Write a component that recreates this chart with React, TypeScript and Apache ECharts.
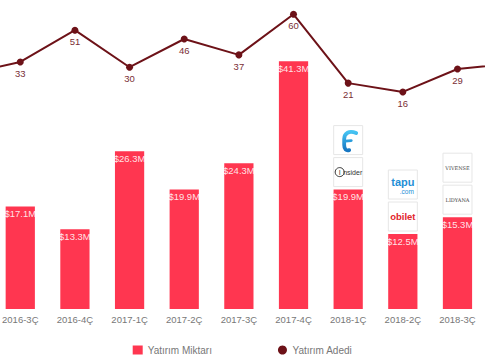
import React, { useEffect, useRef } from "react";
import * as echarts from "echarts";

// Edge categories (first/last) extend beyond the visible frame, as in the reference crop.
const categories = ["2016-2Ç", "2016-3Ç", "2016-4Ç", "2017-1Ç", "2017-2Ç", "2017-3Ç", "2017-4Ç", "2018-1Ç", "2018-2Ç", "2018-3Ç", "2018-4Ç"];
const amounts: (number | null)[] = [null, 17.1, 13.3, 26.3, 19.9, 24.3, 41.3, 19.9, 12.5, 15.3, null];
const counts = [26, 33, 51, 30, 46, 37, 60, 21, 16, 29, 32];
const legendNames = ["Yatırım Miktarı", "Yatırım Adedi"];
const logoCategories = ["2018-1Ç", "2018-2Ç", "2018-3Ç"];
const logosNear = ["insider", "obilet", "lidyana"];
const logosFar = ["f", "tapu", "vivense"];

const BAR_COLOR = "#ff3650";
const LINE_COLOR = "#6d1218";
const FONT = "Liberation Sans, Arial, sans-serif";

function logoEls(name: string, bx: number, by: number): any[] {
  switch (name) {
    case "f":
      return [
        {
          type: "path",
          x: bx - 9,
          y: by - 11,
          shape: { pathData: "M17 4 C10 1 5 4 5 10 L5 16 C5 20 7 22 10 21" },
          style: {
            fill: "none",
            stroke: new echarts.graphic.LinearGradient(0, 0, 0, 1, [
              { offset: 0, color: "#45c3f2" },
              { offset: 1, color: "#1676c2" },
            ]),
            lineWidth: 3.8,
            lineCap: "round",
          },
        },
        {
          type: "path",
          x: bx - 9,
          y: by - 11,
          shape: { pathData: "M6 12 L12 11.5" },
          style: { fill: "none", stroke: "#2a9ddc", lineWidth: 2.8, lineCap: "round" },
        },
      ];
    case "insider":
      return [
        { type: "circle", shape: { cx: bx - 8.5, cy: by, r: 4.5 }, style: { fill: "none", stroke: "#333", lineWidth: 1 } },
        { type: "text", x: bx - 8.5, y: by, style: { text: "I", fontSize: 7, fontFamily: FONT, fill: "#333", align: "center", verticalAlign: "middle" } },
        { type: "text", x: bx - 5, y: by, style: { text: "nsider", fontSize: 7, fontFamily: FONT, fill: "#333", align: "left", verticalAlign: "middle" } },
      ];
    case "tapu":
      return [
        { type: "text", x: bx, y: by - 3, style: { text: "tapu", fontSize: 11, fontWeight: "bold", fontFamily: FONT, fill: "#1f8fd6", align: "center", verticalAlign: "middle" } },
        { type: "text", x: bx + 4, y: by + 6.5, style: { text: ".com", fontSize: 6.5, fontFamily: FONT, fill: "#1f8fd6", align: "center", verticalAlign: "middle" } },
      ];
    case "obilet":
      return [
        { type: "text", x: bx, y: by, style: { text: "obilet", fontSize: 9.5, fontWeight: "bold", fontFamily: FONT, fill: "#e2252c", align: "center", verticalAlign: "middle" } },
      ];
    case "vivense":
      return [
        { type: "text", x: bx, y: by, style: { text: "VIVENSE", fontSize: 5, fontFamily: "DejaVu Serif, serif", fill: "#444", align: "center", verticalAlign: "middle" } },
      ];
    case "lidyana":
      return [
        { type: "text", x: bx, y: by, style: { text: "LIDYANA", fontSize: 5, fontFamily: "DejaVu Serif, serif", fill: "#444", align: "center", verticalAlign: "middle" } },
      ];
  }
  return [];
}

export default function App() {
  const ref = useRef<HTMLDivElement>(null);
  useEffect(() => {
    if (!ref.current) return;
    const chart = echarts.init(ref.current, null, { renderer: "svg" });
    const lastIdx = categories.length - 1;
    const logoData = logoCategories.map((c) => {
      const i = categories.indexOf(c);
      return [i, amounts[i] as number];
    });
    chart.setOption({
      animation: false,
      textStyle: { fontFamily: FONT },
      grid: { left: -61.7, right: -54.45, top: 9, bottom: 51, outerBoundsMode: "none", containLabel: false },
      legend: {
        data: [
          { name: legendNames[0], icon: "rect" },
          { name: legendNames[1], icon: "circle" },
        ],
        left: "center",
        top: 340,
        itemWidth: 10,
        itemHeight: 9,
        itemGap: 66,
        textStyle: { color: "#777", fontSize: 10, fontFamily: FONT },
      },
      xAxis: {
        type: "category",
        data: categories,
        axisLine: { show: false },
        axisTick: { show: false },
        splitLine: { show: false },
        axisLabel: {
          color: "#777",
          fontSize: 9.5,
          margin: 5,
          fontFamily: FONT,
          interval: (i: number) => i > 0 && i < lastIdx,
        },
      },
      yAxis: [
        { type: "value", min: 0, max: 50, show: false, splitLine: { show: false } },
        { type: "value", min: -107, max: 63, show: false, splitLine: { show: false } },
      ],
      series: [
        {
          name: legendNames[0],
          type: "bar",
          data: amounts,
          barWidth: "53.5%",
          itemStyle: { color: BAR_COLOR },
          label: {
            show: true,
            position: "insideTop",
            distance: 2,
            color: "rgba(255,255,255,0.88)",
            fontSize: 9.5,
            fontFamily: FONT,
            formatter: (p: any) => "$" + Number(p.value).toFixed(1) + "M",
          },
        },
        {
          name: legendNames[1],
          type: "line",
          yAxisIndex: 1,
          data: counts.map((v, i) => ({
            value: v,
            label: { show: i > 0 && i < lastIdx },
          })),
          symbol: "circle",
          symbolSize: 7,
          lineStyle: { color: LINE_COLOR, width: 2 },
          itemStyle: { color: LINE_COLOR },
          label: {
            show: true,
            position: "bottom",
            distance: 3,
            color: "#7a2e35",
            fontSize: 9.5,
            fontFamily: FONT,
          },
          z: 5,
        },
        {
          type: "custom",
          clip: false,
          data: logoData,
          z: 6,
          renderItem: (params: any, api: any) => {
            const pt = api.coord([api.value(0), api.value(1)]);
            const cx = pt[0];
            const barTop = pt[1];
            const size = 29;
            const gap = 3;
            const nearY = barTop - gap - size;
            const farY = nearY - gap - size;
            const di = params.dataIndex;
            const box = (y: number) => ({
              type: "rect",
              shape: { x: cx - size / 2, y, width: size, height: size },
              style: { fill: "#fff", stroke: "#e6e6e6", lineWidth: 1 },
            });
            return {
              type: "group",
              children: [
                box(nearY),
                ...logoEls(logosNear[di], cx, nearY + size / 2),
                box(farY),
                ...logoEls(logosFar[di], cx, farY + size / 2),
              ],
            };
          },
        },
      ],
    });
    return () => chart.dispose();
  }, []);
  return <div ref={ref} style={{ position: "absolute", left: 0, top: 0, width: 485, height: 360 }} />;
}
